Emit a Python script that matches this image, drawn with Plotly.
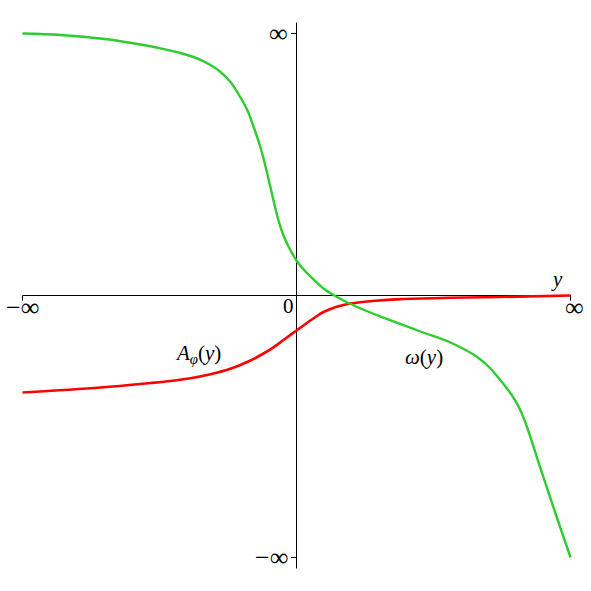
import plotly.graph_objects as go

# normalized coordinates: -1 = "-∞", 1 = "∞"
omega_x = [-1.0, -0.8613, -0.7153, -0.6423, -0.5693, -0.4964, -0.4234, -0.3869, -0.3504, -0.3139,
           -0.2774, -0.2409, -0.2044, -0.1788, -0.1569, -0.1314, -0.1131, -0.0949, -0.0657, -0.0474,
           -0.0292, 0.0036, 0.0328, 0.0620, 0.0985, 0.1350, 0.1861, 0.2518, 0.3066, 0.4526,
           0.5620, 0.6606, 0.7080, 0.7445, 0.7737, 0.7956, 0.8175, 0.8431, 0.8905, 0.9453, 1.0]
omega_y = [1.0, 0.9943, 0.9809, 0.9706, 0.9580, 0.9435, 0.9256, 0.9141, 0.8996, 0.8798,
           0.8531, 0.8149, 0.7557, 0.7061, 0.6450, 0.5649, 0.4924, 0.4122, 0.2863, 0.2290,
           0.1870, 0.1279, 0.0916, 0.0611, 0.0267, 0.0019, -0.0267, -0.0573, -0.0802, -0.1374,
           -0.1794, -0.2355, -0.2786, -0.3244, -0.3626, -0.3969, -0.4389, -0.5076, -0.6603, -0.8321, -1.0]

aphi_x = [-1.0, -0.7153, -0.5328, -0.4599, -0.3869, -0.3139, -0.2409, -0.1679, -0.1204, -0.0839,
          -0.0474, 0.0036, 0.0401, 0.0693, 0.0985, 0.1496, 0.1971, 0.2883, 0.3796, 0.5620,
          0.7445, 1.0]
aphi_y = [-0.3702, -0.3511, -0.3340, -0.3263, -0.3160, -0.3008, -0.2798, -0.2481, -0.2214, -0.1977,
          -0.1698, -0.1309, -0.1031, -0.0821, -0.0630, -0.0420, -0.0305, -0.0198, -0.0137, -0.0088,
          -0.0057, 0.0]

tick_labels = {"xmin": "−∞", "xmax": "∞", "ymin": "−∞", "ymax": "∞", "origin": "0"}

FONT = "Liberation Serif"

fig = go.Figure()
fig.add_trace(go.Scatter(x=aphi_x, y=aphi_y, mode="lines",
                         line=dict(color="#ff0000", width=2.6, shape="spline", smoothing=1.0),
                         hoverinfo="skip"))
fig.add_trace(go.Scatter(x=omega_x, y=omega_y, mode="lines",
                         line=dict(color="#2ecc2e", width=2.4, shape="spline", smoothing=1.0),
                         hoverinfo="skip"))

black = dict(color="black", width=1)
# axes
fig.add_shape(type="line", x0=-1, x1=1, y0=0, y1=0, line=black, layer="below")
fig.add_shape(type="line", x0=0, x1=0, y0=-1.042, y1=1.042, line=black, layer="below")
# end ticks
for xv in (-1, 1):
    fig.add_shape(type="line", x0=xv, x1=xv, y0=0, y1=-0.02, line=black)
for yv in (-1, 1):
    fig.add_shape(type="line", x0=0, x1=-0.02, y0=yv, y1=yv, line=black)

def txt(x, y, s, size=20, xanchor="center", yanchor="middle"):
    fig.add_annotation(x=x, y=y, text=s, showarrow=False, xanchor=xanchor, yanchor=yanchor,
                       font=dict(family=FONT, size=size, color="black"))

txt(-1.0, -0.045, tick_labels["xmin"], size=26)
txt(1.015, -0.045, tick_labels["xmax"], size=26)
txt(-0.025, 1.0, tick_labels["ymax"], size=26, xanchor="right")
txt(-0.025, -1.0, tick_labels["ymin"], size=26, xanchor="right")
txt(-0.03, -0.04, tick_labels["origin"], size=21)
txt(0.95, 0.062, "<i>y</i>", size=21)
txt(-0.36, -0.225, "<i>A</i><sub><i>φ</i></sub>(<i>y</i>)", size=21)
txt(0.465, -0.235, "<i>ω</i>(<i>y</i>)", size=21)

fig.update_layout(
    width=591, height=591, margin=dict(l=0, r=0, t=0, b=0),
    paper_bgcolor="white", plot_bgcolor="white", showlegend=False,
    xaxis=dict(range=[-1.0821, 1.0748], visible=False, fixedrange=True),
    yaxis=dict(range=[-1.1279, 1.1279], visible=False, fixedrange=True),
)
fig.write_html("out.html", config={"displayModeBar": False, "staticPlot": True},
               post_script="document.body.style.margin='0px';document.body.style.overflow='hidden';")
